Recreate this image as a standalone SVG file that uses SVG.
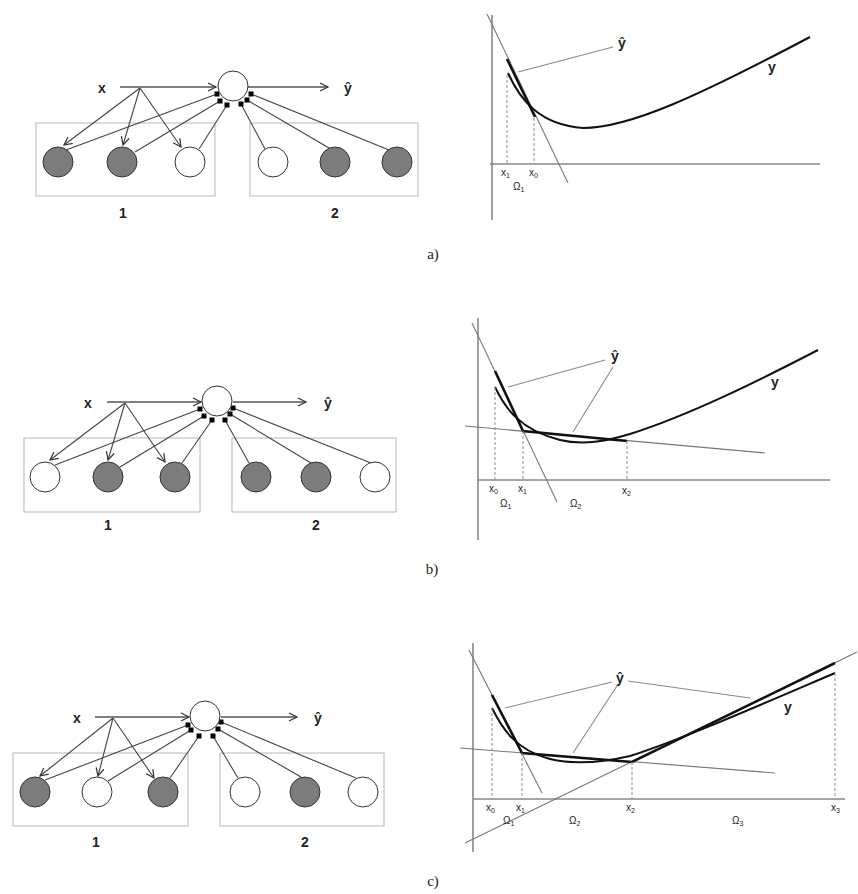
<svg xmlns="http://www.w3.org/2000/svg" width="858" height="894" viewBox="0 0 858 894">
<defs>
<marker id="chev" markerUnits="userSpaceOnUse" markerWidth="12" markerHeight="12" refX="9" refY="5" orient="auto"><path d="M1,1 L9,5 L1,9" fill="none" stroke="#333" stroke-width="1.2"/></marker>
<marker id="dot" markerUnits="userSpaceOnUse" markerWidth="6" markerHeight="6" refX="3" refY="3" orient="0"><rect x="0.5" y="0.5" width="5" height="5" fill="#000"/></marker>
</defs>
<style>
.box{fill:none;stroke:#c4c4c4;stroke-width:1.2}
.g{fill:#7c7c7c;stroke:#333;stroke-width:1}
.w{fill:#fff;stroke:#333;stroke-width:1}
.arr{stroke:#444;stroke-width:1.1;fill:none;marker-end:url(#chev)}
.harr{stroke:#555;stroke-width:1.6;fill:none;marker-end:url(#chev)}
.lnk{stroke:#444;stroke-width:1.1;fill:none;marker-end:url(#dot)}
.lbl{font-family:"Liberation Sans",Arial,sans-serif;font-size:14px;font-weight:bold;fill:#222}
.pl{font-family:"Liberation Serif","Times New Roman",serif;font-size:15px;fill:#222}
.axis{stroke:#888;stroke-width:1.6;fill:none}
.thin{stroke:#777;stroke-width:1.1;fill:none}
.curve{stroke:#111;stroke-width:2;fill:none}
.yh{stroke:#111;stroke-width:2.6;fill:none}
.dash{stroke:#999;stroke-width:1.1;stroke-dasharray:3,2;fill:none}
.ptr{stroke:#888;stroke-width:1.1;fill:none}
.sm{font-family:"Liberation Sans",Arial,sans-serif;font-size:10px;fill:#222}
.gl{font-family:"Liberation Sans",Arial,sans-serif;font-size:14px;font-weight:bold;fill:#222}
</style>

<!-- ============ Panel a (network) ============ -->
<g id="net-a">
<g id="a-boxes"><rect class="box" x="36" y="123" width="179" height="73"/><rect class="box" x="250" y="123" width="168" height="73"/></g>
<g id="a-labels"><text class="lbl" x="102" y="93" text-anchor="middle">x</text><text class="lbl" x="348" y="93" text-anchor="middle">ŷ</text><text class="lbl" x="123" y="218" text-anchor="middle">1</text><text class="lbl" x="335" y="218" text-anchor="middle">2</text></g>
<g id="a-connectors">
<line class="harr" x1="120" y1="87" x2="216" y2="87"/>
<line class="harr" x1="248" y1="87" x2="328" y2="87"/>
<line class="arr" x1="140" y1="88" x2="64" y2="145"/>
<line class="arr" x1="140" y1="88" x2="123" y2="145"/>
<line class="arr" x1="140" y1="88" x2="181" y2="147"/>
<line class="lnk" x1="66" y1="150" x2="217" y2="94"/>
<line class="lnk" x1="135" y1="152" x2="220" y2="101"/>
<line class="lnk" x1="199" y1="149" x2="227" y2="105"/>
<line class="lnk" x1="265" y1="149" x2="241" y2="104"/>
<line class="lnk" x1="329" y1="148" x2="247" y2="100"/>
<line class="lnk" x1="389" y1="150" x2="251" y2="94"/>
</g>
<g id="a-center"><circle class="w" cx="233" cy="86" r="15"/></g>
<g id="a-n1"><circle class="g" cx="58" cy="162" r="15"/></g>
<g id="a-n2"><circle class="g" cx="122" cy="162" r="15"/></g>
<g id="a-n3"><circle class="w" cx="190" cy="162" r="15"/></g>
<g id="a-n4"><circle class="w" cx="273" cy="162" r="15"/></g>
<g id="a-n5"><circle class="g" cx="335" cy="162" r="15"/></g>
<g id="a-n6"><circle class="g" cx="397" cy="162" r="15"/></g>
</g>

<!-- ============ Panel a (graph) ============ -->
<g id="graph-a">
<line class="axis" x1="492" y1="15" x2="492" y2="220"/>
<line class="axis" x1="490" y1="164" x2="820" y2="164"/>
<line class="thin" x1="487" y1="14" x2="568" y2="183"/>
<path class="curve" d="M508,73 C520,100 540,125 583,128 C630,128 700,95 810,37"/>
<line class="yh" x1="507" y1="59" x2="535" y2="117"/>
<line class="dash" x1="507" y1="75" x2="507" y2="164"/>
<line class="dash" x1="534" y1="118" x2="534" y2="164"/>
<line class="ptr" x1="613" y1="47" x2="518" y2="72"/>
<text class="gl" x="622" y="48" text-anchor="middle">ŷ</text>
<text class="gl" x="772" y="72" text-anchor="middle">y</text>
<text class="sm" x="501" y="176">x<tspan font-size="7" dy="2">1</tspan></text>
<text class="sm" x="529" y="176">x<tspan font-size="7" dy="2">0</tspan></text>
<text class="sm" x="513" y="190">Ω<tspan font-size="7" dy="2">1</tspan></text>
</g>
<text class="pl" x="433" y="259" text-anchor="middle">a)</text>

<!-- ============ Panel b (network) ============ -->
<g id="net-b">
<g id="b-boxes"><rect class="box" x="24" y="438" width="176" height="74"/><rect class="box" x="232" y="438" width="164" height="74"/></g>
<g id="b-labels"><text class="lbl" x="88" y="408" text-anchor="middle">x</text><text class="lbl" x="328" y="408" text-anchor="middle">ŷ</text><text class="lbl" x="108" y="530" text-anchor="middle">1</text><text class="lbl" x="316" y="530" text-anchor="middle">2</text></g>
<g id="b-connectors">
<line class="harr" x1="107" y1="402" x2="201" y2="402"/>
<line class="harr" x1="233" y1="402" x2="306" y2="402"/>
<line class="arr" x1="125" y1="403" x2="50" y2="460"/>
<line class="arr" x1="125" y1="403" x2="108" y2="460"/>
<line class="arr" x1="125" y1="403" x2="165" y2="462"/>
<line class="lnk" x1="55" y1="465" x2="200" y2="409"/>
<line class="lnk" x1="120" y1="467" x2="204" y2="416"/>
<line class="lnk" x1="182" y1="463" x2="212" y2="420"/>
<line class="lnk" x1="249" y1="463" x2="225" y2="420"/>
<line class="lnk" x1="311" y1="463" x2="230" y2="414"/>
<line class="lnk" x1="371" y1="463" x2="233" y2="408"/>
</g>
<g id="b-center"><circle class="w" cx="217" cy="401" r="15"/></g>
<g id="b-n1"><circle class="w" cx="45" cy="477" r="15"/></g>
<g id="b-n2"><circle class="g" cx="108" cy="477" r="15"/></g>
<g id="b-n3"><circle class="g" cx="175" cy="477" r="15"/></g>
<g id="b-n4"><circle class="g" cx="256" cy="477" r="15"/></g>
<g id="b-n5"><circle class="g" cx="316" cy="477" r="15"/></g>
<g id="b-n6"><circle class="w" cx="375" cy="477" r="15"/></g>
</g>

<!-- ============ Panel b (graph) ============ -->
<g id="graph-b">
<line class="axis" x1="478" y1="318" x2="478" y2="540"/>
<line class="axis" x1="477" y1="480" x2="830" y2="480"/>
<line class="thin" x1="472" y1="323" x2="557" y2="502"/>
<line class="thin" x1="465" y1="426" x2="765" y2="453"/>
<path class="curve" d="M495,387 C505,408 520,430 560,440 C585,446 610,440 630,434 C690,415 760,380 818,350"/>
<polyline class="yh" points="495,371 523,431 627,441"/>
<line class="dash" x1="495" y1="387" x2="495" y2="480"/>
<line class="dash" x1="523" y1="431" x2="523" y2="480"/>
<line class="dash" x1="627" y1="441" x2="627" y2="480"/>
<line class="ptr" x1="605" y1="360" x2="508" y2="387"/>
<line class="ptr" x1="613" y1="367" x2="573" y2="432"/>
<text class="gl" x="615" y="361" text-anchor="middle">ŷ</text>
<text class="gl" x="775" y="387" text-anchor="middle">y</text>
<text class="sm" x="489" y="492">x<tspan font-size="7" dy="2">0</tspan></text>
<text class="sm" x="518" y="492">x<tspan font-size="7" dy="2">1</tspan></text>
<text class="sm" x="622" y="494">x<tspan font-size="7" dy="2">2</tspan></text>
<text class="sm" x="500" y="507">Ω<tspan font-size="7" dy="2">1</tspan></text>
<text class="sm" x="570" y="507">Ω<tspan font-size="7" dy="2">2</tspan></text>
</g>
<text class="pl" x="432" y="574" text-anchor="middle">b)</text>

<!-- ============ Panel c (network) ============ -->
<g id="net-c">
<g id="c-boxes"><rect class="box" x="13" y="753" width="175" height="73"/><rect class="box" x="220" y="753" width="164" height="73"/></g>
<g id="c-labels"><text class="lbl" x="77" y="723" text-anchor="middle">x</text><text class="lbl" x="318" y="723" text-anchor="middle">ŷ</text><text class="lbl" x="96" y="847" text-anchor="middle">1</text><text class="lbl" x="305" y="847" text-anchor="middle">2</text></g>
<g id="c-connectors">
<line class="harr" x1="95" y1="717" x2="189" y2="717"/>
<line class="harr" x1="221" y1="717" x2="297" y2="717"/>
<line class="arr" x1="113" y1="718" x2="40" y2="776"/>
<line class="arr" x1="113" y1="718" x2="98" y2="776"/>
<line class="arr" x1="113" y1="718" x2="154" y2="778"/>
<line class="lnk" x1="45" y1="780" x2="188" y2="725"/>
<line class="lnk" x1="108" y1="781" x2="191" y2="730"/>
<line class="lnk" x1="170" y1="778" x2="199" y2="736"/>
<line class="lnk" x1="238" y1="778" x2="213" y2="736"/>
<line class="lnk" x1="301" y1="777" x2="218" y2="729"/>
<line class="lnk" x1="356" y1="778" x2="221" y2="722"/>
</g>
<g id="c-center"><circle class="w" cx="205" cy="716" r="15"/></g>
<g id="c-n1"><circle class="g" cx="35" cy="792" r="15"/></g>
<g id="c-n2"><circle class="w" cx="97" cy="792" r="15"/></g>
<g id="c-n3"><circle class="g" cx="163" cy="792" r="15"/></g>
<g id="c-n4"><circle class="w" cx="245" cy="792" r="15"/></g>
<g id="c-n5"><circle class="g" cx="305" cy="792" r="15"/></g>
<g id="c-n6"><circle class="w" cx="363" cy="792" r="15"/></g>
</g>

<!-- ============ Panel c (graph) ============ -->
<g id="graph-c">
<line class="axis" x1="473" y1="643" x2="473" y2="852"/>
<line class="axis" x1="473" y1="799" x2="845" y2="799"/>
<line class="thin" x1="469" y1="650" x2="542" y2="793"/>
<line class="thin" x1="460" y1="748" x2="775" y2="773"/>
<line class="thin" x1="465" y1="843" x2="857" y2="652"/>
<path class="curve" d="M492,708 C502,728 515,750 550,759 C575,765 600,763 630,756 C680,740 760,705 835,673"/>
<polyline class="yh" points="492,695 522,753 632,762 835,663"/>
<line class="dash" x1="492" y1="708" x2="492" y2="799"/>
<line class="dash" x1="522" y1="753" x2="522" y2="799"/>
<line class="dash" x1="632" y1="762" x2="632" y2="799"/>
<line class="dash" x1="835" y1="673" x2="835" y2="799"/>
<line class="ptr" x1="612" y1="682" x2="505" y2="708"/>
<line class="ptr" x1="617" y1="686" x2="573" y2="753"/>
<line class="ptr" x1="628" y1="681" x2="750" y2="698"/>
<text class="gl" x="620" y="683" text-anchor="middle">ŷ</text>
<text class="gl" x="788" y="712" text-anchor="middle">y</text>
<text class="sm" x="486" y="811">x<tspan font-size="7" dy="2">0</tspan></text>
<text class="sm" x="516" y="811">x<tspan font-size="7" dy="2">1</tspan></text>
<text class="sm" x="626" y="811">x<tspan font-size="7" dy="2">2</tspan></text>
<text class="sm" x="831" y="811">x<tspan font-size="7" dy="2">3</tspan></text>
<text class="sm" x="503" y="824">Ω<tspan font-size="7" dy="2">1</tspan></text>
<text class="sm" x="569" y="824">Ω<tspan font-size="7" dy="2">2</tspan></text>
<text class="sm" x="732" y="824">Ω<tspan font-size="7" dy="2">3</tspan></text>
</g>
<text class="pl" x="433" y="886" text-anchor="middle">c)</text>
</svg>
